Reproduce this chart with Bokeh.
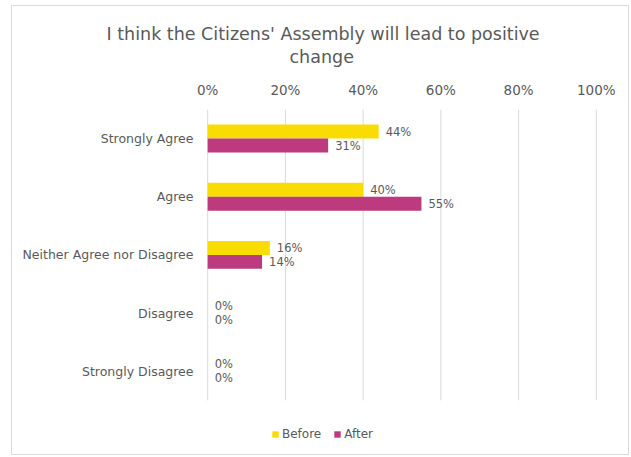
from bokeh.plotting import figure
from bokeh.models import Range1d, Legend, LegendItem, NumeralTickFormatter, FixedTicker, ColumnDataSource, Title
from bokeh.transform import dodge
from bokeh.core.properties import value
from bokeh.embed import file_html
from bokeh.resources import INLINE

categories = ["Strongly Agree", "Agree", "Neither Agree nor Disagree", "Disagree", "Strongly Disagree"]
before = [0.44, 0.40, 0.16, 0.0, 0.0]
after = [0.31, 0.55, 0.14, 0.0, 0.0]
x_ticks = [0, 0.2, 0.4, 0.6, 0.8, 1.0]
title_lines = ["I think the Citizens' Assembly will lead to positive", "change"]

FONT = "DejaVu Sans"
GRAY = "#595959"
YELLOW = "#FADC05"
MAGENTA = "#BC3A7D"
GRID = "#D9D9D9"

n = len(categories)
ypos = [n - 1 - i for i in range(n)]

src = ColumnDataSource(dict(
    y=ypos, before=before, after=after,
    before_lbl=[f"{v*100:.0f}%" for v in before],
    after_lbl=[f"{v*100:.0f}%" for v in after],
))
grid_src = ColumnDataSource(dict(x=x_ticks, y0=[n - 0.5] * len(x_ticks), y1=[-0.5] * len(x_ticks)))

p = figure(width=618, height=450, output_backend="svg", toolbar_location=None,
           y_range=Range1d(-1.397, n - 0.5),
           x_range=Range1d(-0.003, 1.003), x_axis_location="above",
           min_border_left=194, min_border_right=33, min_border_top=103, min_border_bottom=4)
p.styles = {"border": "1px solid #D9D9D9", "margin-left": "11px", "margin-top": "5px"}
p.outline_line_color = None

p.title.text = title_lines[0]
p.title.align = "left"
p.title.offset = -100
p.title.standoff = -20
p.title.text_font = FONT
p.title.text_font_size = "17.5px"
p.title.text_font_style = "normal"
p.title.text_color = GRAY
p.add_layout(Title(text=title_lines[1], align="left", offset=83, standoff=23, text_font=FONT,
                   text_font_size="17.5px", text_font_style="normal", text_color=GRAY), "above")

p.segment(x0="x", x1="x", y0="y0", y1="y1", source=grid_src, line_color=GRID, line_width=1)

rb = p.hbar(y=dodge("y", 0.12), right="before", left=0, height=0.24,
            source=src, fill_color=YELLOW, line_color=None)
ra = p.hbar(y=dodge("y", -0.12), right="after", left=0, height=0.24,
            source=src, fill_color=MAGENTA, line_color=None)

for col, lbl, off in [("before", "before_lbl", 0.12), ("after", "after_lbl", -0.12)]:
    p.text(x=col, y=dodge("y", off), text=lbl, source=src,
           x_offset=7, text_align="left", text_baseline="middle",
           text_font=value(FONT), text_font_size="11.5px", text_color=GRAY)

p.xaxis.ticker = FixedTicker(ticks=x_ticks)
p.xaxis.formatter = NumeralTickFormatter(format="0%")
p.yaxis.ticker = FixedTicker(ticks=ypos)
p.yaxis.major_label_overrides = {y: c for y, c in zip(ypos, categories)}
for ax in (p.xaxis, p.yaxis):
    ax.axis_line_color = None
    ax.major_tick_line_color = None
    ax.minor_tick_line_color = None
    ax.major_tick_out = 0
    ax.major_tick_in = 0
    ax.minor_tick_out = 0
    ax.major_label_text_font = FONT
    ax.major_label_text_color = GRAY
p.xaxis.major_label_text_font_size = "13.5px"
p.xaxis.major_label_standoff = 12
p.yaxis.major_label_standoff = 13
p.yaxis.major_label_text_font_size = "12.5px"

p.xgrid.grid_line_color = None
p.ygrid.grid_line_color = None

legend = Legend(items=[LegendItem(label="Before", renderers=[rb]), LegendItem(label="After", renderers=[ra])],
                location=(65, 11), orientation="horizontal", glyph_width=8, glyph_height=8,
                label_text_font=FONT, label_text_font_size="12px", label_text_color=GRAY,
                label_standoff=3, spacing=12, padding=0, margin=0,
                border_line_color=None, background_fill_alpha=0)
p.add_layout(legend, "center")

open("out.html", "w").write(file_html(p, INLINE))
